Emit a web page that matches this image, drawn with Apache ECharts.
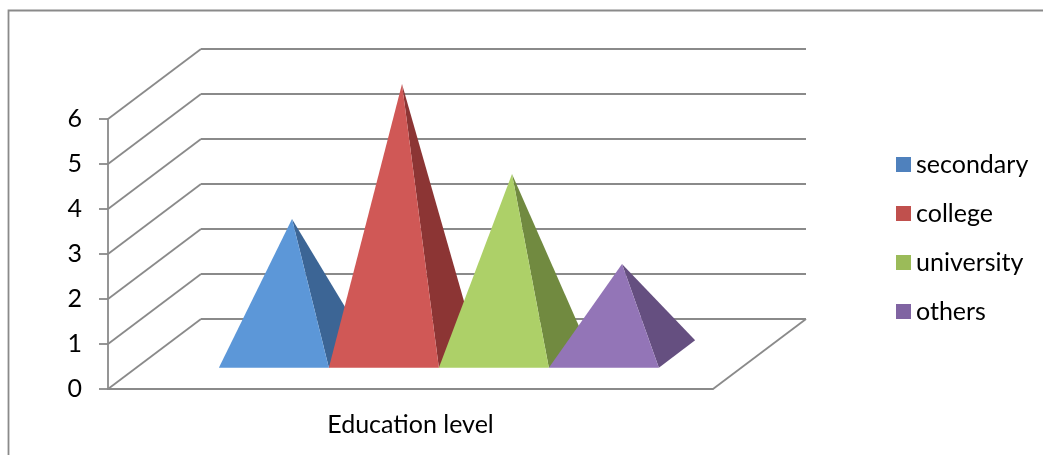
<!DOCTYPE html>
<html lang="en">
<head>
    <meta charset="UTF-8">
    <title>Education level</title>
    <script src="https://cdn.jsdelivr.net/npm/echarts@6/dist/echarts.min.js"></script>
    <style>
        html, body { margin: 0; padding: 0; background: #fff; }
    </style>
</head>
<body>
<div id="main" style="width: 1043px;height:455px;"></div>
<script type="text/javascript">
    // data
    var categories = ['Education level'];
    var seriesNames = ['secondary', 'college', 'university', 'others'];
    var seriesValues = [3, 6, 4, 2];
    var legendColors = ['#4F81BD', '#C0504D', '#9BBB59', '#8064A2'];
    var frontColors = ['#5C97D8', '#D05856', '#ADD068', '#9375B7'];
    var sideColors = ['#3C6595', '#8C3534', '#718A40', '#654F80'];
    var yTicks = [0, 1, 2, 3, 4, 5, 6];

    // oblique 3d look: offset from the front plane to the back wall
    var DEPTH_X = 93, DEPTH_Y = 70;
    var GAP = 1.5;            // gap width, in units of one pyramid
    var D0 = 0.305, D1 = 0.695; // pyramid depth inside the floor
    var GRID = { left: 108, top: 119, width: 605, height: 270 };
    var lineColor = '#8A8A8A';
    var font = 'Lato, "Open Sans", sans-serif';

    var myChart = echarts.init(document.getElementById('main'));

    function pyramidRender(slot) {
        return function (params, api) {
            var base = api.coord([0, 0]);
            var top = api.coord([api.value(0), api.value(1)]);
            var band = api.size([1, 0])[0];
            var w = band / (seriesNames.length + GAP);
            var x0 = base[0] - band / 2 + w * GAP / 2 + slot * w;
            var fl = [x0 + D0 * DEPTH_X, base[1] - D0 * DEPTH_Y];
            var fr = [x0 + w + D0 * DEPTH_X, base[1] - D0 * DEPTH_Y];
            var br = [x0 + w + D1 * DEPTH_X, base[1] - D1 * DEPTH_Y];
            var dm = (D0 + D1) / 2;
            var apex = [x0 + w / 2 + dm * DEPTH_X, top[1] - dm * DEPTH_Y];
            return {
                type: 'group',
                children: [
                    { type: 'polygon', shape: { points: [fr, br, apex] }, style: { fill: sideColors[slot] } },
                    { type: 'polygon', shape: { points: [fl, fr, apex] }, style: { fill: frontColors[slot] } }
                ]
            };
        };
    }

    // left wall diagonals + right floor edge
    function wallRender(params, api) {
        var v = api.value(0);
        var p = api.coord([0, v]);
        var band = api.size([1, 0])[0];
        var children = [];
        var xl = p[0] - band / 2;
        children.push({ type: 'line', shape: { x1: xl, y1: p[1], x2: xl + DEPTH_X, y2: p[1] - DEPTH_Y },
            style: { stroke: lineColor, lineWidth: 1.8 } });
        if (v === 0) {
            var xr = p[0] + band / 2;
            children.push({ type: 'line', shape: { x1: xr, y1: p[1], x2: xr + DEPTH_X, y2: p[1] - DEPTH_Y },
                style: { stroke: lineColor, lineWidth: 1.8 } });
        }
        return { type: 'group', children: children };
    }

    var series = [{
        type: 'custom',
        xAxisIndex: 0,
        yAxisIndex: 0,
        silent: true,
        renderItem: wallRender,
        data: yTicks.map(function (t) { return [t]; }),
        encode: { y: 0 },
        z: 1
    }];
    for (var i = 0; i < seriesNames.length; i++) {
        series.push({
            name: seriesNames[i],
            type: 'custom',
            xAxisIndex: 0,
            yAxisIndex: 0,
            renderItem: pyramidRender(i),
            itemStyle: { color: legendColors[i] },
            data: [[0, seriesValues[i]]],
            encode: { x: 0, y: 1 },
            z: 2
        });
    }

    var option = {
        backgroundColor: '#fff',
        animation: false,
        graphic: [{
            type: 'rect',
            shape: { x: 8.5, y: 10.5, width: 1100, height: 500 },
            style: { fill: 'none', stroke: lineColor, lineWidth: 1.8 },
            silent: true
        }],
        legend: {
            orient: 'vertical',
            left: 896,
            top: 152,
            padding: 0,
            itemWidth: 15,
            itemHeight: 15,
            itemGap: 24,
            icon: 'rect',
            data: seriesNames,
            textStyle: { fontFamily: font, fontSize: 25, color: '#000', lineHeight: 24 }
        },
        grid: [
            { left: GRID.left, top: GRID.top, width: GRID.width, height: GRID.height },
            { left: GRID.left + DEPTH_X, top: GRID.top - DEPTH_Y, width: GRID.width, height: GRID.height }
        ],
        xAxis: [{
            type: 'category',
            gridIndex: 0,
            data: categories,
            axisLine: { lineStyle: { color: lineColor, width: 1.8 } },
            axisTick: { length: 9, lineStyle: { color: lineColor, width: 1.8 } },
            axisLabel: { margin: 23, fontFamily: font, fontSize: 25, color: '#000' }
        }, {
            type: 'category',
            gridIndex: 1,
            data: categories,
            show: false
        }],
        yAxis: [{
            type: 'value',
            gridIndex: 0,
            min: 0,
            max: 6,
            interval: 1,
            axisLine: { show: true, lineStyle: { color: lineColor, width: 1.8 } },
            axisTick: { show: true, length: 9, lineStyle: { color: lineColor, width: 1.8 } },
            splitLine: { show: false },
            axisLabel: { margin: 26, fontFamily: font, fontSize: 25, color: '#000' }
        }, {
            type: 'value',
            gridIndex: 1,
            min: 0,
            max: 6,
            interval: 1,
            axisLine: { show: false },
            axisTick: { show: false },
            axisLabel: { show: false },
            splitLine: { show: true, lineStyle: { color: lineColor, width: 1.8 } }
        }],
        series: series
    };
    myChart.setOption(option);
</script>
</body>
</html>
